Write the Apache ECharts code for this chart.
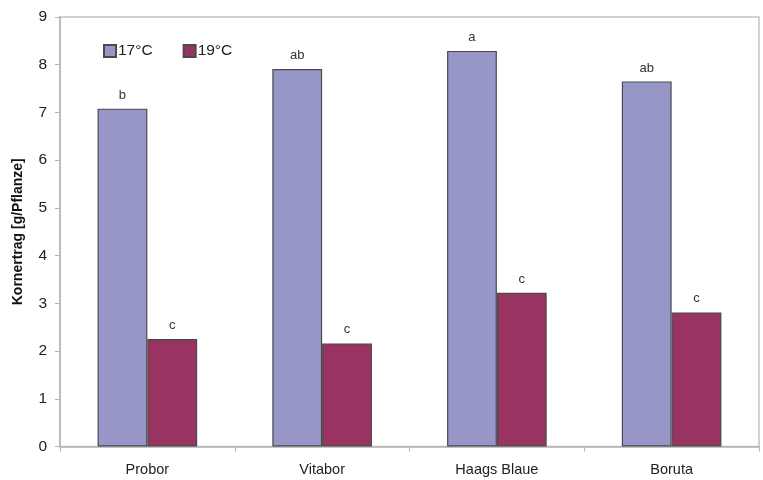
<!DOCTYPE html>
<html>
<head>
<meta charset="utf-8">
<script src="https://cdn.jsdelivr.net/npm/echarts@6/dist/echarts.min.js"></script>
<style>
  html, body { margin: 0; padding: 0; background: #fff; }
  #chart { width: 763px; height: 480px; }
</style>
</head>
<body>
<div id="chart"></div>
<script>
// Sorten und Kornertrag je Temperaturstufe
const categories = ['Probor', 'Vitabor', 'Haags Blaue', 'Boruta'];
const seriesNames = ['17°C', '19°C'];
const yield17 = [7.08, 7.91, 8.29, 7.65];
const yield19 = [2.25, 2.16, 3.22, 2.81];
// Signifikanzbuchstaben über den Säulen
const letters17 = ['b', 'ab', 'a', 'ab'];
const letters19 = ['c', 'c', 'c', 'c'];
const yTicks = [0, 1, 2, 3, 4, 5, 6, 7, 8, 9];

const chart = echarts.init(document.getElementById('chart'), null, { renderer: 'canvas' });

const font = 'Liberation Sans, Arial, Helvetica, sans-serif';

function barSeries(name, values, letters, color) {
  return {
    name: name,
    type: 'bar',
    data: values,
    barGap: '0%',
    barCategoryGap: '43%',
    itemStyle: { color: color, borderColor: '#4a4a4a', borderWidth: 1.2 },
    label: {
      show: true,
      position: 'top',
      distance: 7,
      color: '#333',
      fontFamily: font,
      fontSize: 13,
      formatter: p => letters[p.dataIndex]
    }
  };
}

chart.setOption({
  animation: false,
  backgroundColor: '#fff',
  grid: {
    left: 60, right: 4, top: 17, bottom: 33.5,
    show: true, borderColor: '#c4c4c4', borderWidth: 1.5
  },
  legend: {
    data: seriesNames,
    left: 98, top: 38,
    itemWidth: 12, itemHeight: 12, itemGap: 30,
    textStyle: { fontFamily: font, fontSize: 15.5, color: '#222', padding: [0, 0, 0, -3] },
    icon: 'rect'
  },
  xAxis: {
    type: 'category',
    data: categories,
    axisLine: { lineStyle: { color: '#b4b4b4', width: 1.5 } },
    axisTick: { show: true, inside: false, length: 5, alignWithLabel: false, lineStyle: { color: '#b4b4b4' } },
    axisLabel: { fontFamily: font, fontSize: 14.5, color: '#222', margin: 16 }
  },
  yAxis: {
    type: 'value',
    min: yTicks[0],
    max: yTicks[yTicks.length - 1],
    interval: 1,
    name: 'Kornertrag [g/Pflanze]',
    nameLocation: 'middle',
    nameGap: 35,
    nameTextStyle: { fontFamily: font, fontSize: 14, fontWeight: 'bold', color: '#111' },
    axisLine: { show: true, lineStyle: { color: '#b4b4b4', width: 1.5 } },
    axisTick: { show: true, length: 5, lineStyle: { color: '#b4b4b4' } },
    splitLine: { show: false },
    axisLabel: { fontFamily: font, fontSize: 15.5, color: '#222', margin: 13 }
  },
  series: [
    barSeries(seriesNames[0], yield17, letters17, '#9696c9'),
    barSeries(seriesNames[1], yield19, letters19, '#993462')
  ]
});
</script>
</body>
</html>
